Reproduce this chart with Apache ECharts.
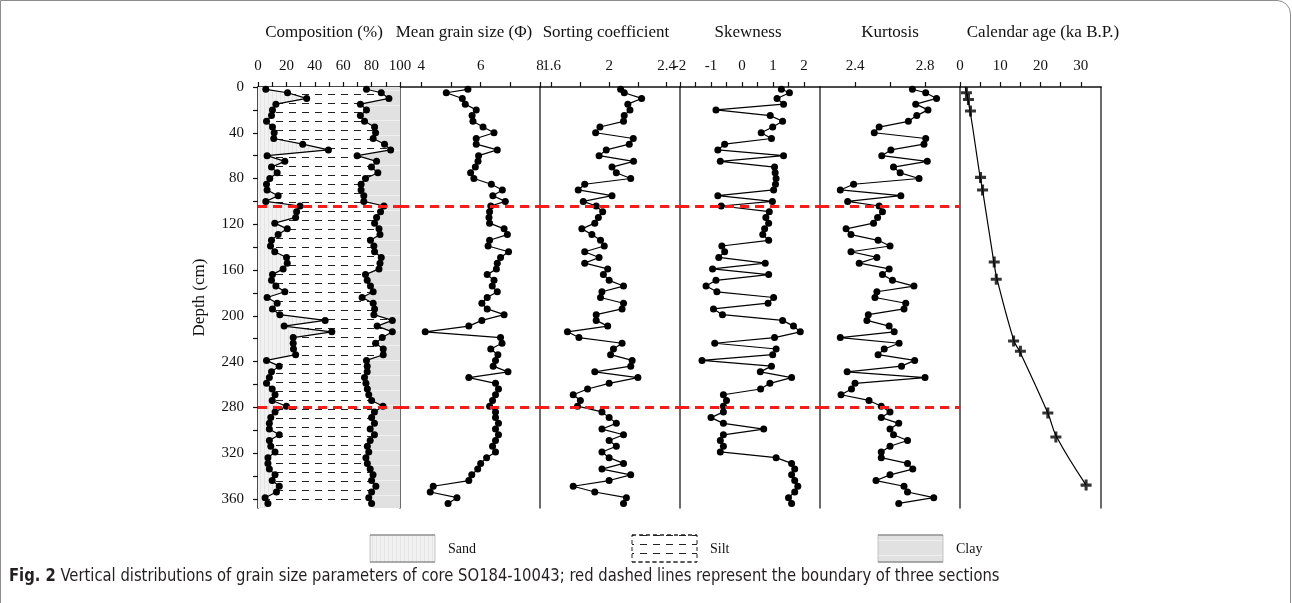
<!DOCTYPE html>
<html>
<head>
<meta charset="utf-8">
<script src="https://cdn.jsdelivr.net/npm/echarts@6/dist/echarts.min.js"></script>
<style>
  html, body { margin: 0; padding: 0; background: #fff; }
  #frame { position: absolute; left: 0; top: 0; width: 1289px; height: 660px;
           border: 1px solid #8c8c8c; border-top-right-radius: 14px; }
  #main { position: absolute; left: 0; top: 0; width: 1292px; height: 603px; }
</style>
</head>
<body>
<div id="frame"></div>
<div id="main"></div>
<script>
// sample depths (cm)
const depth = [2, 5, 10, 15, 20, 25, 30, 35, 40, 45, 50, 55, 60, 65, 70, 75, 80, 85, 90, 95, 100,
  104, 109, 114, 119, 124, 129, 134, 139, 144, 149, 154, 159, 164, 169, 174, 179, 184, 189, 194,
  199, 204, 209, 214, 219, 224, 229, 234, 239, 244, 249, 254, 259, 264, 269, 274, 279, 284, 289,
  294, 299, 304, 309, 314, 319, 324, 329, 334, 339, 344, 349, 354, 359, 364];

// composition: sand %, sand + silt % (the rest is clay)
const sand = [5.5, 20.8, 34.3, 12.6, 10.2, 9.5, 6.0, 10.2, 11.4, 11.1, 31.5, 49.6, 6.4, 18.9, 9.5, 13.5, 8.3, 6.0, 6.4, 14.2, 5.5,
  29.6, 27.2, 26.5, 11.8, 20.6, 14.2, 9.5, 8.8, 11.8, 20.1, 20.6, 17.7, 10.2, 9.5, 12.6, 18.9, 6.4, 13.5, 10.2,
  15.4, 47.3, 18.4, 52.0, 24.8, 24.8, 25.0, 26.5, 6.0, 14.9, 9.5, 8, 6, 10, 12, 10, 20, 12, 9,
  8, 8, 15, 8, 9, 12, 7, 7, 8, 12, 10, 15, 13, 5, 7];
const sandSilt = [76.4, 86.8, 92.2, 72.1, 76.4, 72.1, 75.0, 82.1, 82.8, 81.1, 89.1, 93.4, 69.8, 83.5, 79.9, 84.4, 75.7, 72.6, 72.6, 74.5, 74.5,
  88.7, 86.3, 83.5, 82.1, 85.2, 85.9, 79.2, 81.6, 82.1, 86.8, 85.9, 85.2, 75.7, 76.9, 79.2, 81.1, 73.3, 81.1, 82.1,
  81.6, 94.6, 83.9, 94.6, 87.5, 82.8, 88.2, 88.2, 76.4, 76.9, 76.9, 75, 76, 77, 78, 80, 88, 82, 80,
  82, 79, 82, 79, 77, 78, 76, 77, 79, 81, 80, 83, 80, 78, 80];

const meanGrain = [5.57, 4.84, 5.38, 5.48, 5.85, 5.71, 5.74, 6.08, 6.45, 5.85, 5.85, 6.56, 5.93, 5.91, 5.82, 5.66, 5.77, 6.36, 6.73, 6.41, 6.83,
  6.34, 6.30, 6.28, 6.30, 6.79, 6.90, 6.30, 6.25, 6.94, 6.67, 6.56, 6.53, 6.22, 6.45, 6.39, 6.56, 6.22, 6.04, 6.22,
  6.79, 6.04, 5.60, 4.13, 6.67, 6.72, 6.34, 6.58, 6.50, 6.42, 6.92, 5.6, 6.5, 6.6, 6.5, 6.4, 6.3, 6.5, 6.5,
  6.6, 6.5, 6.6, 6.5, 6.4, 6.5, 6.2, 6.0, 5.9, 5.7, 5.6, 4.4, 4.3, 5.2, 4.9];

const sorting = [2.08, 2.105, 2.226, 2.13, 2.145, 2.105, 2.10, 1.936, 1.906, 2.168, 2.14, 1.98, 1.93, 2.17, 2.02, 2.05, 2.15, 1.83, 1.785, 2.02, 1.82,
  1.91, 1.955, 1.925, 1.90, 1.81, 1.88, 1.94, 1.966, 1.83, 1.93, 1.83, 1.99, 1.96, 2.0, 2.10, 1.95, 1.94, 2.10, 2.09,
  1.91, 1.91, 1.99, 1.71, 1.79, 2.09, 2.03, 2.01, 2.16, 2.15, 1.90, 2.2, 2.0, 1.85, 1.75, 1.8, 1.78, 1.95, 2.0,
  2.05, 1.95, 2.1, 2.0, 2.05, 1.95, 2.0, 2.1, 1.95, 2.15, 2.0, 1.75, 1.9, 2.12, 2.1];

const skewness = [1.27, 1.53, 1.13, 1.34, -0.84, 0.91, 1.31, 0.99, 0.62, 0.95, -0.56, -0.78, 1.34, -0.70, 1.05, 1.07, 1.10, 1.08, 1.02, -0.78, 0.98,
  -0.67, 0.88, 0.77, 0.86, 0.73, 0.67, 0.86, -0.65, -0.56, -0.75, 0.75, -0.95, 0.86, -0.84, -1.16, -0.81, 1.02, 0.84, -0.92,
  -0.63, 1.31, 1.66, 1.88, 1.05, -0.88, 1.10, 0.99, -1.29, 0.95, 0.59, 1.6, 0.9, 0.6, -0.6, -0.5, -0.6, -0.6, -1.0,
  -0.6, 0.7, -0.6, -0.7, -0.6, -0.7, 1.1, 1.6, 1.7, 1.6, 1.7, 1.8, 1.7, 1.5, 1.6];

const kurtosis = [2.728, 2.804, 2.866, 2.747, 2.817, 2.753, 2.705, 2.538, 2.51, 2.804, 2.794, 2.605, 2.553, 2.813, 2.62, 2.658, 2.766, 2.392, 2.316, 2.662, 2.358,
  2.538, 2.557, 2.529, 2.506, 2.349, 2.377, 2.532, 2.60, 2.377, 2.525, 2.424, 2.595, 2.557, 2.614, 2.737, 2.525, 2.514, 2.69, 2.68,
  2.476, 2.468, 2.595, 2.624, 2.316, 2.652, 2.567, 2.532, 2.741, 2.666, 2.355, 2.8, 2.4, 2.38, 2.32, 2.48, 2.55, 2.6, 2.55,
  2.65, 2.6, 2.62, 2.7, 2.6, 2.55, 2.55, 2.7, 2.73, 2.6, 2.52, 2.68, 2.7, 2.85, 2.65];

// dated levels and age model curve
const ageDepth = [5, 11, 21, 79, 90, 153, 168, 222, 231, 285, 306, 348];
const ageKa = [1.6, 2.1, 2.6, 5.1, 5.6, 8.5, 9.0, 13.3, 15.0, 21.8, 23.8, 31.3];
const curveDepth = [0, 21, 79, 90, 153, 168, 222, 231, 285, 306, 348];
const curveAge = [1.3, 2.5, 5.0, 5.6, 8.4, 9.2, 13.4, 14.8, 21.8, 24.0, 31.3];

const boundaries = [104, 280];
const maxDepth = 368;

const serif = "'Liberation Serif', 'Times New Roman', serif";
const narrow = "'Liberation Sans Narrow', 'DejaVu Sans Condensed', sans-serif";

function pattern(w, h, draw) {
  const c = document.createElement('canvas');
  c.width = w; c.height = h;
  draw(c.getContext('2d'));
  return { image: c, repeat: 'repeat' };
}
const sandPat = pattern(4, 4, ctx => {
  ctx.fillStyle = '#f1f1f1'; ctx.fillRect(0, 0, 4, 4);
  ctx.fillStyle = '#e4e4e4'; ctx.fillRect(0, 0, 1, 4);
});
const siltPat = pattern(13, 9, ctx => {
  ctx.fillStyle = '#ffffff'; ctx.fillRect(0, 0, 13, 9);
  ctx.fillStyle = '#222222'; ctx.fillRect(3, 4, 7, 1);
});
const clayPat = pattern(4, 15, ctx => {
  ctx.fillStyle = '#e1e1e1'; ctx.fillRect(0, 0, 4, 15);
  ctx.fillStyle = '#f0f0f0'; ctx.fillRect(0, 0, 4, 1);
});

const panels = [
  { left: 258, width: 142, min: 0, max: 100, ticks: [0, 10, 20, 30, 40, 50, 60, 70, 80, 90, 100], labels: [0, 20, 40, 60, 80, 100] },
  { left: 400, width: 140, min: 3.28, max: 8, ticks: [4, 5, 6, 7, 8], labels: [4, 6, 8] },
  { left: 540, width: 140, min: 1.519, max: 2.493, ticks: [1.6, 1.8, 2, 2.2, 2.4], labels: [1.6, 2, 2.4] },
  { left: 680, width: 140, min: -2, max: 2.516, ticks: [-2, -1.5, -1, -0.5, 0, 0.5, 1, 1.5, 2], labels: [-2, -1, 0, 1, 2] },
  { left: 820, width: 140, min: 2.2, max: 3.0, ticks: [2.4, 2.6, 2.8], labels: [2.4, 2.8] },
  { left: 960, width: 141, min: 0, max: 35, ticks: [0, 5, 10, 15, 20, 25, 30], labels: [0, 10, 20, 30] }
];
const titles = [
  { text: 'Composition (%)', x: 324 },
  { text: 'Mean grain size (\u03A6)', x: 464 },
  { text: 'Sorting coefficient', x: 606 },
  { text: 'Skewness', x: 748 },
  { text: 'Kurtosis', x: 890 },
  { text: 'Calendar age (ka B.P.)', x: 1043 }
];
const legendItems = [
  { name: 'Sand', x: 370, fill: sandPat, dash: null },
  { name: 'Silt', x: 632, fill: siltPat, dash: [4, 3] },
  { name: 'Clay', x: 878, fill: clayPat, dash: null }
];

const chart = echarts.init(document.getElementById('main'));

const redLine = {
  silent: true,
  symbol: 'none',
  label: { show: false },
  lineStyle: { color: '#ff1a1a', type: [9, 6], width: 3 },
  data: boundaries.map(b => ({ yAxis: b }))
};

function profile(values, i, withMark) {
  return {
    type: 'line',
    xAxisIndex: i,
    yAxisIndex: i,
    data: depth.map((d, k) => [values[k], d]),
    symbol: 'circle',
    symbolSize: 7,
    itemStyle: { color: '#000' },
    lineStyle: { color: '#000', width: 1.2 },
    z: 3,
    markLine: withMark ? redLine : undefined
  };
}

// legend boxes: pattern fill, light sides, darker top and bottom edges
function legendBox(item) {
  const y = 535, w = 65, h = 27;
  const edge = item.dash ? '#222' : '#777';
  return [
    { type: 'rect', shape: { x: item.x, y: y, width: w, height: h },
      style: { fill: item.fill, stroke: item.dash ? '#222' : '#c4c4c4', lineWidth: 1, lineDash: item.dash } },
    { type: 'line', shape: { x1: item.x, y1: y, x2: item.x + w, y2: y }, style: { stroke: edge, lineWidth: 1.2, lineDash: item.dash } },
    { type: 'line', shape: { x1: item.x, y1: y + h, x2: item.x + w, y2: y + h }, style: { stroke: edge, lineWidth: 1.2, lineDash: item.dash } },
    { type: 'text', x: item.x + 78, y: y + 14,
      style: { text: item.name, fontFamily: serif, fontSize: 14, fill: '#111', verticalAlign: 'middle' } }
  ];
}

const option = {
  animation: false,
  grid: panels.map(p => ({ left: p.left, top: 87, width: p.width, height: 421, outerBoundsMode: 'none' })),
  xAxis: panels.map((p, i) => ({
    gridIndex: i, type: 'value', position: 'top', min: p.min, max: p.max,
    axisLine: { show: true, onZero: false, lineStyle: { color: '#111', width: 1.5 } },
    axisTick: { show: true, length: 5, customValues: p.ticks, lineStyle: { color: '#111', width: 1.2 } },
    axisLabel: { customValues: p.labels, margin: 13, color: '#111', fontFamily: serif, fontSize: 15 },
    splitLine: { show: false }
  })),
  yAxis: panels.map((p, i) => ({
    gridIndex: i, type: 'value', inverse: true, min: 0, max: maxDepth,
    name: i === 0 ? 'Depth (cm)' : '',
    nameLocation: 'middle', nameGap: 50, nameRotate: 90,
    nameTextStyle: { fontFamily: serif, fontSize: 17, color: '#111' },
    axisLine: { show: true, onZero: false, lineStyle: { color: i === 0 ? '#111' : '#3a3a3a', width: 1.5 } },
    axisTick: { show: i === 0, length: 5, customValues: [0, 20, 40, 60, 80, 100, 120, 140, 160, 180, 200, 220, 240, 260, 280, 300, 320, 340, 360], lineStyle: { color: '#111', width: 1.2 } },
    axisLabel: { show: i === 0, customValues: [0, 40, 80, 120, 160, 200, 240, 280, 320, 360], margin: 14, color: '#111', fontFamily: serif, fontSize: 15 },
    splitLine: { show: false }
  })).concat([{
    gridIndex: 5, type: 'value', position: 'right', inverse: true, min: 0, max: maxDepth,
    axisLine: { show: true, onZero: false, lineStyle: { color: '#3a3a3a', width: 1.5 } },
    axisTick: { show: false }, axisLabel: { show: false }, splitLine: { show: false }
  }]),
  series: [
    {
      type: 'custom',
      xAxisIndex: 0, yAxisIndex: 0,
      data: [[0, 0]],
      z: 1,
      silent: true,
      renderItem: function (params, api) {
        const last = depth.length - 1;
        const leftPts = depth.map((d, k) => api.coord([sand[k], d]));
        const rightPts = depth.map((d, k) => api.coord([sandSilt[k], d]));
        const topL = api.coord([sand[0], 0]), botL = api.coord([sand[last], maxDepth]);
        const topR = api.coord([sandSilt[0], 0]), botR = api.coord([sandSilt[last], maxDepth]);
        const a = api.coord([0, 0]), b = api.coord([100, maxDepth]);
        return {
          type: 'group',
          children: [
            { type: 'rect', shape: { x: a[0], y: a[1], width: b[0] - a[0], height: b[1] - a[1] }, style: { fill: clayPat } },
            { type: 'polygon', shape: { points: [a].concat([topL], leftPts, [botL], [api.coord([0, maxDepth])]) }, style: { fill: sandPat } },
            { type: 'polygon', shape: { points: [topL].concat(leftPts, [botL, botR], rightPts.slice().reverse(), [topR]) }, style: { fill: siltPat } }
          ]
        };
      }
    },
    profile(sand, 0, true),
    profile(sandSilt, 0, false),
    profile(meanGrain, 1, true),
    profile(sorting, 2, true),
    profile(skewness, 3, true),
    profile(kurtosis, 4, true),
    {
      type: 'line', xAxisIndex: 5, yAxisIndex: 5,
      data: curveDepth.map((d, k) => [curveAge[k], d]),
      smooth: 0.4, showSymbol: false, symbol: 'none',
      lineStyle: { color: '#000', width: 1.2 }, z: 2
    },
    {
      type: 'scatter', xAxisIndex: 5, yAxisIndex: 5,
      data: ageDepth.map((d, k) => [ageKa[k], d]),
      symbol: 'path://M-1.1,-4 L1.1,-4 L1.1,-1.1 L4,-1.1 L4,1.1 L1.1,1.1 L1.1,4 L-1.1,4 L-1.1,1.1 L-4,1.1 L-4,-1.1 L-1.1,-1.1 Z',
      symbolSize: 11,
      itemStyle: { color: '#000' }, z: 4
    }
  ],
  graphic: {
    elements: titles.map(t => ({
      type: 'text', x: t.x, y: 33,
      style: { text: t.text, fontFamily: serif, fontSize: 17, fill: '#111', align: 'center', verticalAlign: 'middle' }
    })).concat(
      ...legendItems.map(legendBox),
      [{
        type: 'text', x: 9, y: 576, scaleX: 0.913,
        style: {
          text: '{b|Fig. 2} Vertical distributions of grain size parameters of core SO184-10043; red dashed lines represent the boundary of three sections',
          fontFamily: narrow, fontSize: 18, fill: '#231f20', verticalAlign: 'middle',
          rich: { b: { fontWeight: 'bold', fontFamily: narrow, fontSize: 18, fill: '#231f20' } }
        }
      }]
    )
  }
};

chart.setOption(option);
</script>
</body>
</html>
